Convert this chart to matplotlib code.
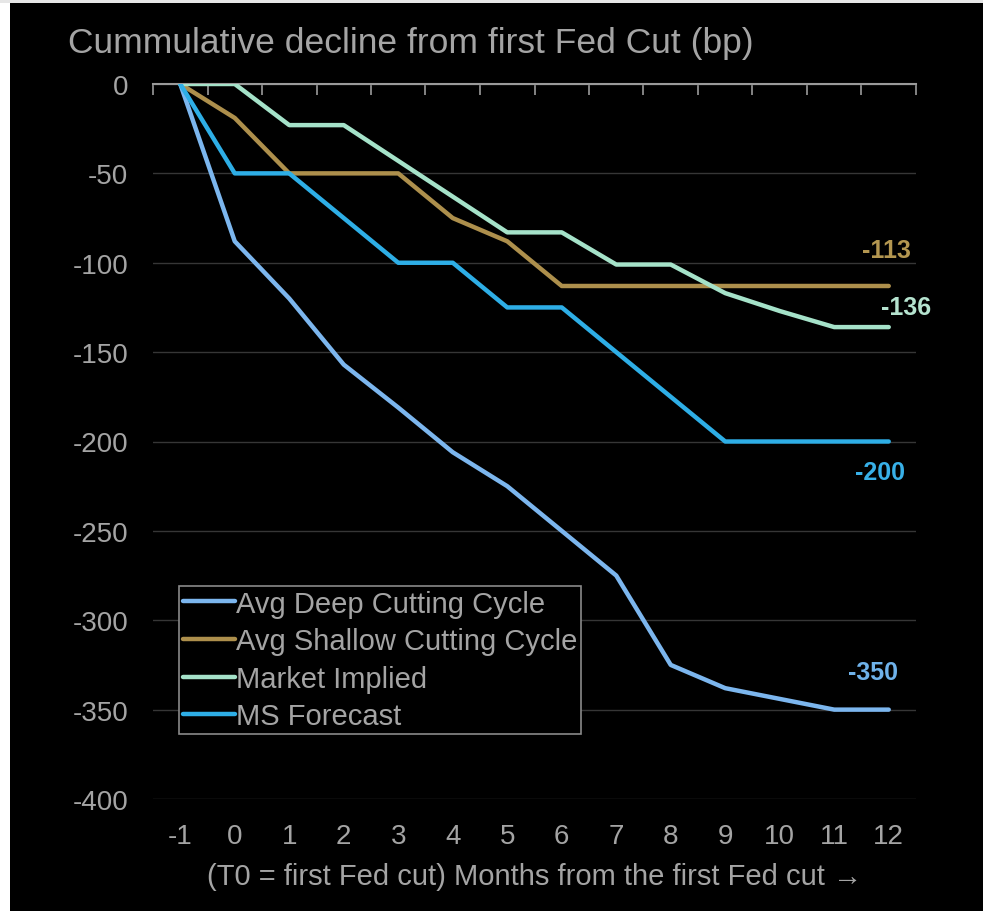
import matplotlib
matplotlib.use('agg')
from matplotlib import pyplot as plt
from matplotlib.patches import Rectangle
import numpy as np

plt.rcParams['font.family'] = ['Liberation Sans', 'DejaVu Sans']
plt.rcParams['axes.unicode_minus'] = False

# months from the first Fed cut
months = [-1, 0, 1, 2, 3, 4, 5, 6, 7, 8, 9, 10, 11, 12]

deep_cycle = [0, -88, -120, -157, -181, -206, -225, -250, -275, -325, -338, -344, -350, -350]
shallow_cycle = [0, -19, -50, -50, -50, -75, -88, -113, -113, -113, -113, -113, -113, -113]
market_implied = [0, 0, -23, -23, -43, -63, -83, -83, -101, -101, -117, -127, -136, -136]
ms_forecast = [0, -50, -50, -75, -100, -100, -125, -125, -150, -175, -200, -200, -200, -200]

series_names = ['Avg Deep Cutting Cycle', 'Avg Shallow Cutting Cycle', 'Market Implied', 'MS Forecast']
series_colors = ['#7cb6ee', '#ad8f4c', '#a5e2c9', '#2eaee6']
end_label_colors = ['#6fb2ea', '#b39650', '#b5e3cf', '#38b0e8']
# where the end-value labels sit (data units)
end_label_pos = [(11.72, -329), (11.95, -93), (12.32, -125), (11.84, -217)]

grey = '#a4a4a4'

fig = plt.figure(figsize=(9.83, 9.12), dpi=100, facecolor='black')
# white edges of the screenshot
fig.patches.append(Rectangle((0, 0), 10 / 983, 1, transform=fig.transFigure,
                             facecolor='white', edgecolor='none', zorder=-1))
fig.patches.append(Rectangle((0, 1 - 4 / 912), 1, 4 / 912, transform=fig.transFigure,
                             facecolor='#e6e6e6', edgecolor='none', zorder=-1))

ax = fig.add_axes([153 / 983, 1 - 800 / 912, 763 / 983, 715 / 912])
ax.set_facecolor('black')

all_series = [deep_cycle, shallow_cycle, market_implied, ms_forecast]
for vals, name, col in zip(all_series, series_names, series_colors):
    ax.plot(months, vals, color=col, lw=3.2, label=name, solid_capstyle='round',
            solid_joinstyle='round', zorder=3)

for vals, col, (lx, ly) in zip(all_series, end_label_colors, end_label_pos):
    ax.text(lx, ly, '%d' % vals[-1], color=col, fontsize=18, fontweight='bold',
            ha='center', va='center', zorder=4)

ax.set_xlim(-1.5, 12.5)
ax.set_ylim(-400, 0)
ax.set_yticks(np.arange(-400, 1, 50))
ax.set_xticks(months)
ax.set_xticks(np.arange(-1.5, 12.6, 1), minor=True)

ax.grid(axis='y', color='#363636', lw=1.0, zorder=0)
ax.xaxis.grid(False)
for side in ['left', 'right', 'bottom']:
    ax.spines[side].set_visible(False)
ax.spines['top'].set_color('#9a9a9a')
ax.spines['top'].set_linewidth(1.5)
ax.spines['top'].set_zorder(2)

ax.tick_params(axis='y', length=0, pad=18, labelsize=20, labelcolor=grey)
ax.tick_params(axis='x', which='major', length=0, pad=17, labelsize=20, labelcolor=grey,
               top=False, bottom=True)
ax.tick_params(axis='x', which='minor', top=True, bottom=False, direction='in',
               length=8, width=1.2, color='#9a9a9a')

ax.set_xlabel('(T0 = first Fed cut) Months from the first Fed cut \u2192',
              color=grey, fontsize=21, labelpad=10)

fig.text(68 / 983, 1 - 43 / 912, 'Cummulative decline from first Fed Cut (bp)',
         color=grey, fontsize=25.5, ha='left', va='center')

leg = ax.legend(loc='lower left', bbox_to_anchor=(26 / 763, 65 / 715), fontsize=21,
                frameon=True, facecolor='black', edgecolor='#8a8a8a', framealpha=1,
                handlelength=1.8, handletextpad=0.05, labelspacing=0.33, borderpad=0.12,
                borderaxespad=0, fancybox=False)
leg.get_frame().set_linewidth(1.2)
for t in leg.get_texts():
    t.set_color(grey)

plt.savefig('out.png', dpi=100, facecolor=fig.get_facecolor())
plt.close()
